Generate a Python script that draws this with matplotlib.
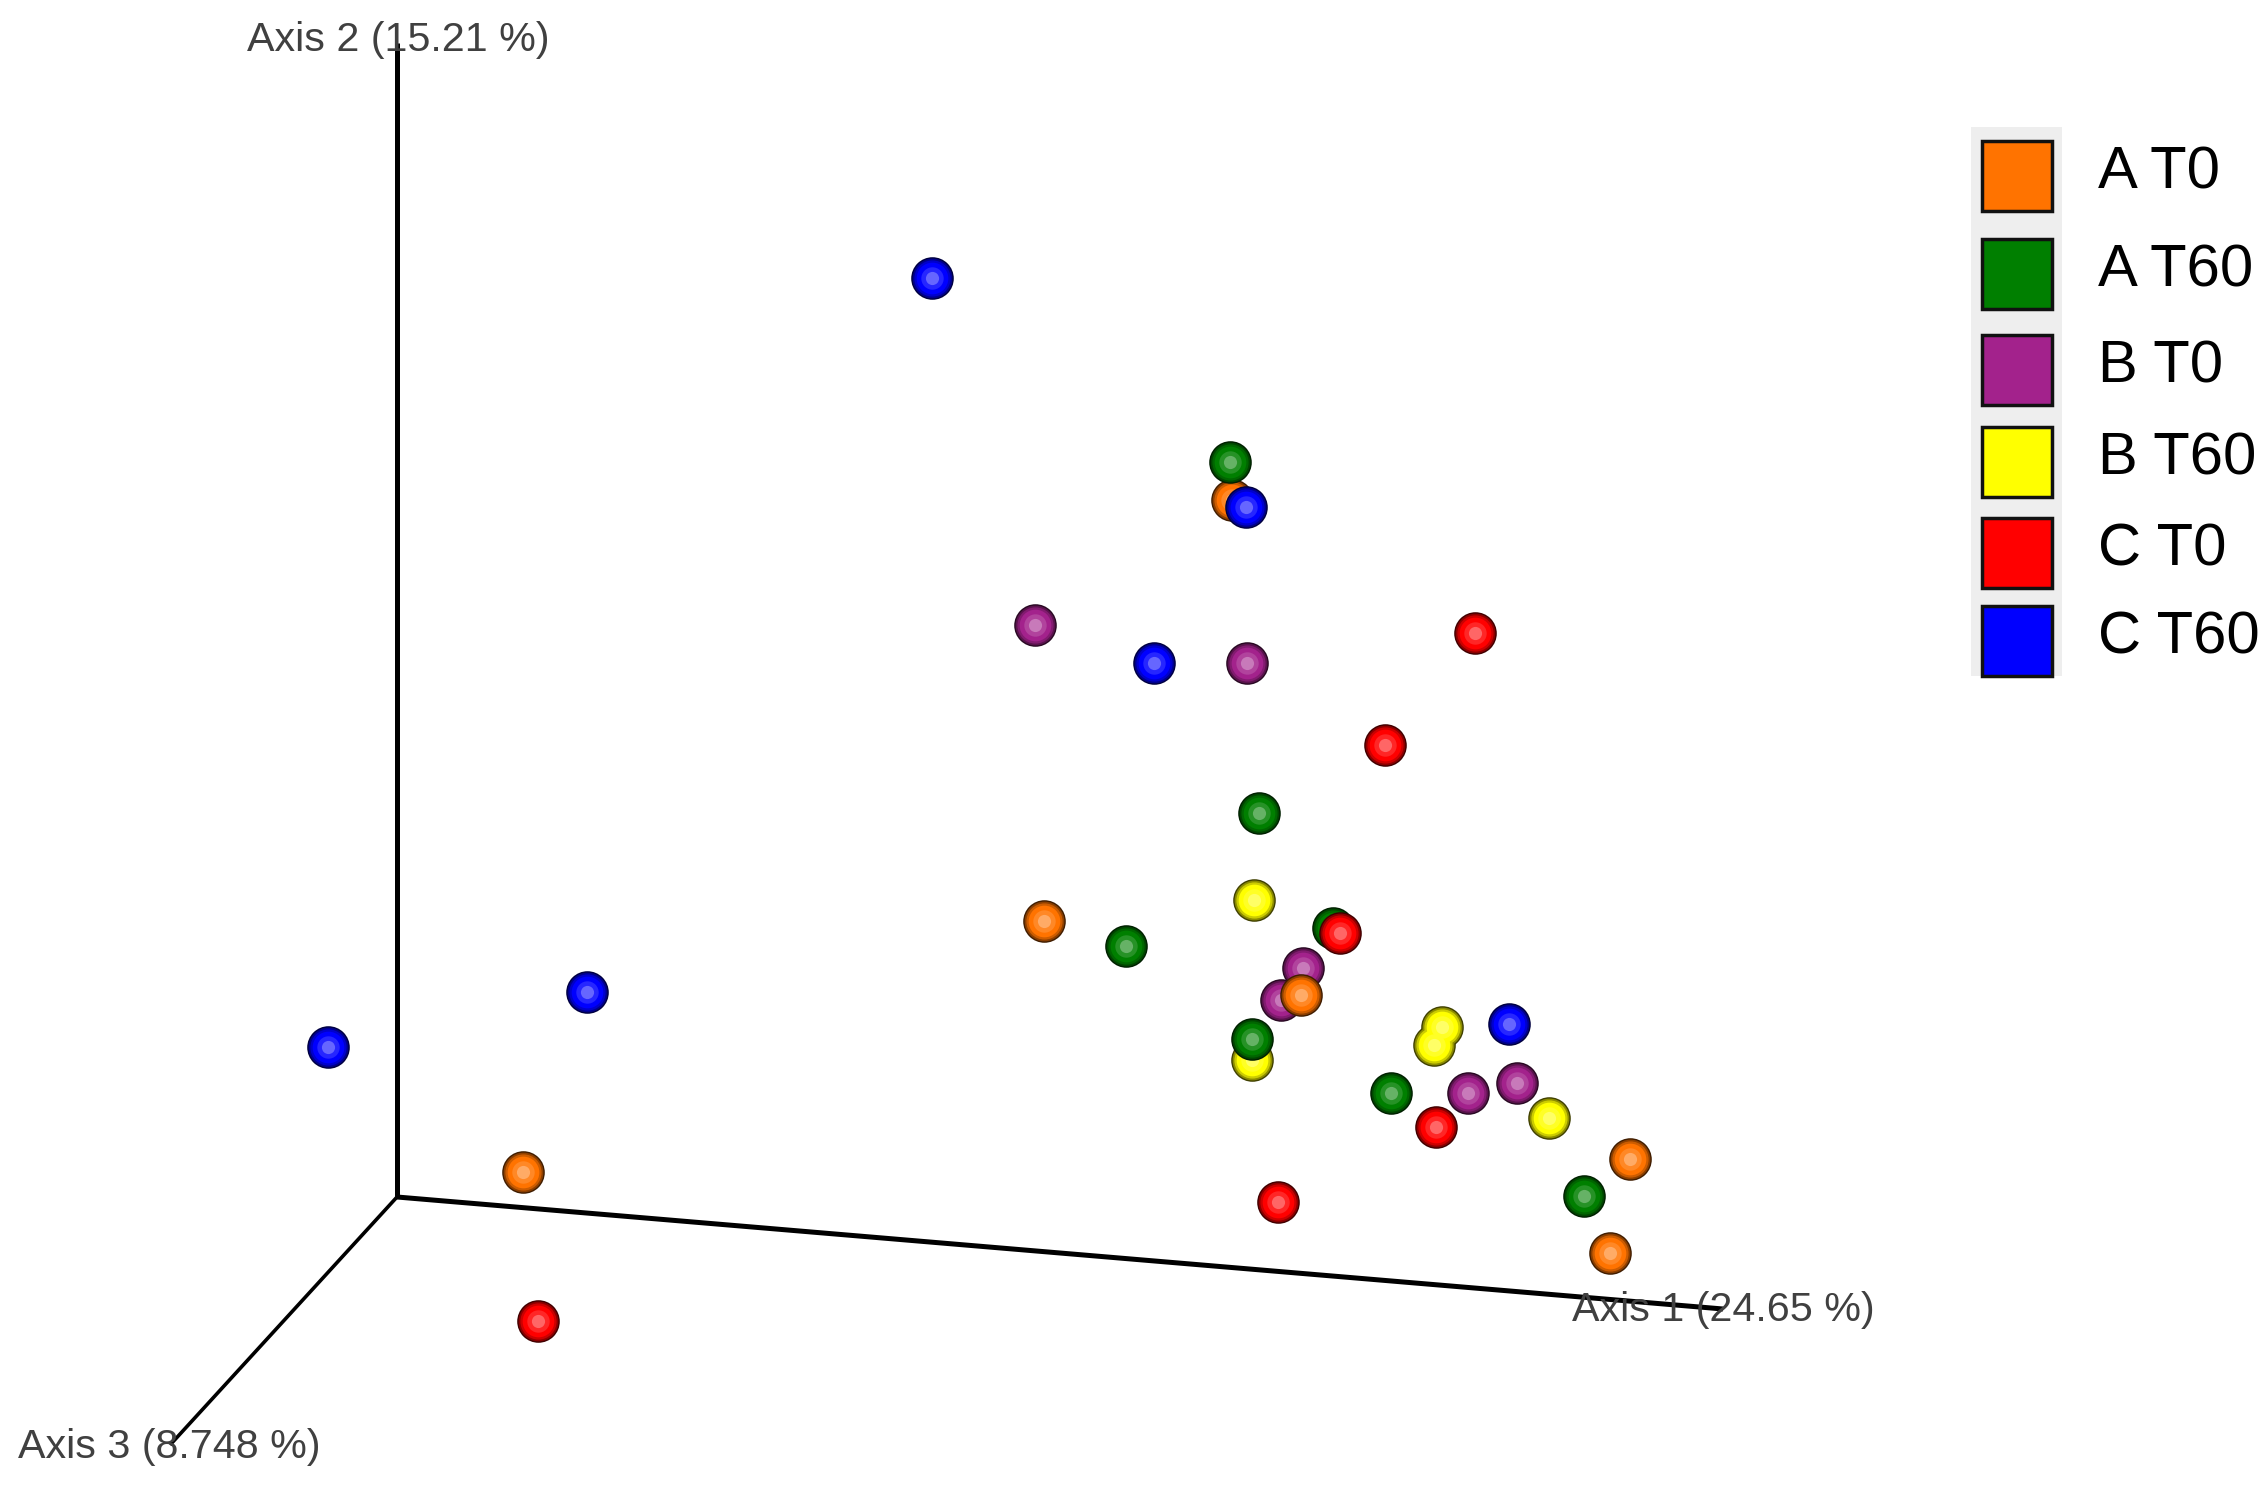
import numpy as np
import matplotlib
matplotlib.use("Agg")
import matplotlib.pyplot as plt
from matplotlib.patches import Rectangle
from matplotlib.colors import to_rgb

plt.rcParams['font.family'] = ['Liberation Sans', 'DejaVu Sans']

# projected sample positions (screen units of the 3D view)
groups = ['B T0', 'B T60', 'A T0', 'A T60', 'C T0', 'C T60']   # back-to-front draw order
legend_order = ['A T0', 'A T60', 'B T0', 'B T60', 'C T0', 'C T60']
colors = {'A T0': '#ff7300', 'A T60': '#007f00', 'B T0': '#a3228c',
          'B T60': '#ffff00', 'C T0': '#ff0000', 'C T60': '#0000ff'}

a_t0_x = [1232, 1044, 1301, 523, 1630, 1610]
a_t0_y = [500, 921, 995, 1172, 1159, 1253]
a_t60_x = [1230, 1259, 1126, 1252, 1391, 1584, 1333]
a_t60_y = [462, 813, 946, 1039, 1093, 1196, 928]
b_t0_x = [1035, 1247, 1303, 1281, 1468, 1517]
b_t0_y = [625, 663, 968, 1000, 1093, 1083]
b_t60_x = [1254, 1252, 1434, 1442, 1549]
b_t60_y = [900, 1060, 1045, 1027, 1118]
c_t0_x = [1475, 1385, 1340, 1436, 1278, 538]
c_t0_y = [633, 745, 933, 1127, 1202, 1321]
c_t60_x = [932, 1246, 1154, 587, 328, 1509]
c_t60_y = [278, 507, 663, 992, 1047, 1024]

data = {'A T0': (a_t0_x, a_t0_y), 'A T60': (a_t60_x, a_t60_y),
        'B T0': (b_t0_x, b_t0_y), 'B T60': (b_t60_x, b_t60_y),
        'C T0': (c_t0_x, c_t0_y), 'C T60': (c_t60_x, c_t60_y)}

# axis frame of the 3D view
origin = (397, 1197)
axis_ends = [(1723, 1309), (397, 43), (170, 1445)]
axis_labels = ['Axis 1 (24.65 %)', 'Axis 2 (15.21 %)', 'Axis 3 (8.748 %)']
label_pos = [(1572, 1310), (247, 40), (18, 1447)]
axis_lw = [3.6, 3.6, 2.6]

fig = plt.figure(figsize=(22.64, 14.87), dpi=100)
ax = fig.add_axes([0, 0, 1, 1])
ax.set_xlim(0, 2264)
ax.set_ylim(1487, 0)
ax.axis('off')

for (ex, ey), lw in zip(axis_ends, axis_lw):
    ax.plot([origin[0], ex], [origin[1], ey], color='black', lw=lw,
            solid_capstyle='butt', zorder=1)
for txt, (lx, ly) in zip(axis_labels, label_pos):
    ax.text(lx, ly, txt, fontsize=29.7, color='#404040', ha='left', va='center', zorder=2)


def shade(c, f):
    r = np.array(to_rgb(c))
    return tuple(r * f)


def tint(c, f):
    r = np.array(to_rgb(c))
    return tuple(r + (1 - r) * f)


# sphere look: stacked discs from dark rim to light centre
layers = [(940, shade, 0.25), (820, shade, 0.55), (680, shade, 0.8),
          (520, shade, 1.0), (260, tint, 0.15), (90, tint, 0.4)]

z = 3
for g in groups:
    x, y = data[g]
    c = colors[g]
    for i, (s, fn, f) in enumerate(layers):
        ax.scatter(x, y, s=s, color=fn(c, f), linewidths=0, zorder=z + i * 0.01)
    z += 1

# legend
ax.add_patch(Rectangle((1971, 127), 91, 549, facecolor='#eeeeee', edgecolor='none', zorder=10))
leg_y = [176, 274, 370, 462, 553, 641]
for lab, yy in zip(legend_order, leg_y):
    ax.add_patch(Rectangle((1982, yy - 35), 70, 70, facecolor=colors[lab],
                           edgecolor='#111111', lw=2.5, zorder=11))
    ax.text(2098, yy - 3, lab, fontsize=43, color='black', ha='left', va='center', zorder=11)

fig.savefig('out.png', dpi=100)
